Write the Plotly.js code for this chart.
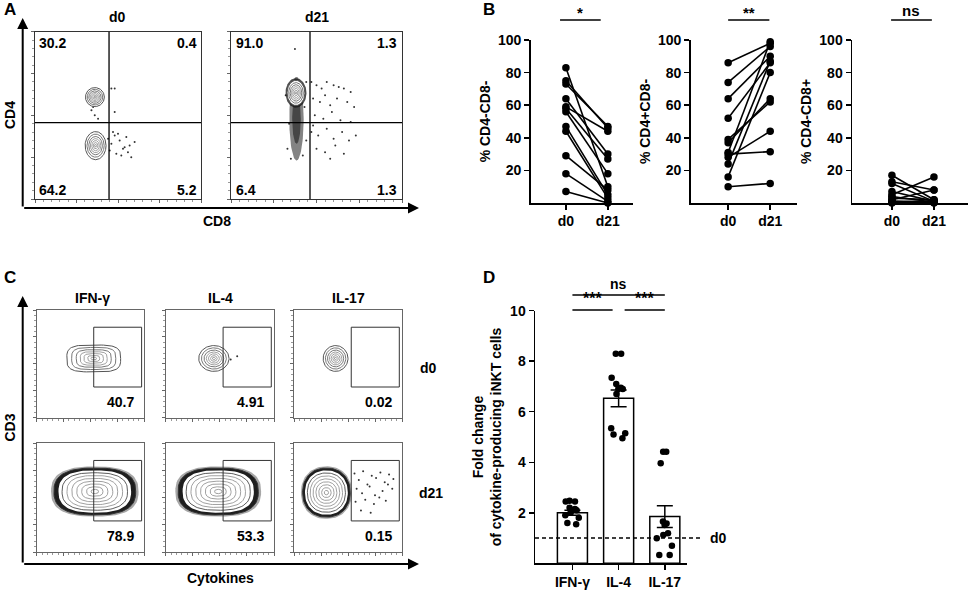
<!DOCTYPE html>
<html><head><meta charset="utf-8">
<script src="https://cdn.plot.ly/plotly-3.0.1.min.js"></script>
<style>html,body{margin:0;padding:0;background:#fff}</style>
</head><body><div id="chart" style="width:970px;height:592px"></div>
<script>
// ===== Panel A: CD4 vs CD8 flow plots =====
const aDays = ['d0', 'd21'];
const aQuad = [['30.2', '0.4', '64.2', '5.2'], ['91.0', '1.3', '6.4', '1.3']];
const aGateX = [44.6, 46.2];
const aGateY = [45.6, 45.6];
const aPopPanel = [0, 0, 1];
const aPopX = [36.1, 36.5, 38.0];
const aPopY = [60.9, 31.9, 63.4];
const aPopRx = [5.7, 6.3, 5.2];
const aPopRy = [5.7, 8.4, 7.5];
const aStreakX = [38.3], aStreakY = [48], aStreakRx = [4.2], aStreakRy = [25];
const aDots0X = [44,46,48,51,53,55,57,60,45,49,52,56,47,50,54,58,46,48,48,34,36,38,35];
const aDots0Y = [36,33,38,35,30,37,32,34,29,27,26,28,40,39,31,25,66,66,52,53,50,48,55];
const aDots1X = [47,50,53,56,60,63,66,70,48,52,55,58,62,68,72,49,54,59,64,70,47,51,56,60,65,69,73,50,55,61,66,58,48,37.4,33,44,34,43,32,44,35,42];
const aDots1Y = [70,68,66,70,68,67,66,64,60,58,62,56,60,58,55,50,48,52,47,46,40,38,42,36,40,35,38,30,28,32,27,24,44,89.7,30,35,45,55,62,70,24,26];

// ===== Panel B: paired percentages =====
const bDays = ['d0', 'd21'];
const dnD0 = [83, 75, 73, 64, 59, 58, 56, 47, 44, 29, 18, 7];
const dnD21 = [10, 46, 47, 30, 44, 27, 18, 5, 3, 8, 1, 0];
const cd4D0 = [86, 74, 64, 52, 39, 37, 31, 30, 28, 24, 16, 10];
const cd4D21 = [98, 96, 90, 86, 62, 64, 99, 31.5, 44, 87, 80, 12];
const cd8D0 = [17, 13, 12, 7, 5, 4, 3, 2, 1, 1, 0.5, 0];
const cd8D21 = [2, 8, 1, 1, 16, 0.5, 2, 8, 1, 0, 1, 0.5];
const bTitles = ['% CD4-CD8-', '% CD4+CD8-', '% CD4-CD8+'];
const bSig = ['*', '**', 'ns'];
const bTicks = [20, 40, 60, 80, 100];

// ===== Panel C: cytokine flow plots =====
const cCols = ['IFN-γ', 'IL-4', 'IL-17'];
const cRows = ['d0', 'd21'];
const cPct = [['40.7', '4.91', '0.02'], ['78.9', '53.3', '0.15']];
const cGateX = [53, 97.5];
const cGateY = [28.5, 84];
const cPopX = [[53, 44.5, 38.5], [54, 48.5, 30]];
const cPopY = [[55, 55, 55], [55.5, 55.5, 54.5]];
const cPopRx = [[25, 14, 11.5], [38, 37, 22]];
const cPopRy = [[12.5, 12, 12], [21.5, 21.5, 22.5]];
const cPopShape = [[3.5, 2, 2], [2.6, 2.6, 2.2]];
const cDots1X = [60, 66], cDots1Y = [54, 57];
const cDots5X = [56,60,64,68,72,76,80,84,88,92,58,63,70,75,82,87,91,57,66,74,79,85,62,71];
const cDots5Y = [72,66,74,62,70,68,73,64,71,67,58,54,60,52,56,62,58,46,48,44,50,47,38,36];

// ===== Panel D: fold change =====
const dCats = ['IFN-γ', 'IL-4', 'IL-17'];
const ifnPts = [2.48, 2.45, 2.45, 2.2, 2.15, 2.1, 2.1, 2.0, 1.9, 1.8, 1.6, 1.55];
const il4Pts = [8.3, 8.3, 7.35, 7.1, 6.95, 6.9, 6.9, 6.7, 5.35, 5.15, 5.1, 4.95];
const il17Pts = [4.42, 4.42, 3.96, 1.65, 1.58, 1.52, 1.19, 1.12, 0.99, 0.69, 0.33, 0.33];
const dMeans = [2.0, 6.53, 1.85];
const dSem = [0.1, 0.33, 0.43];
const dTicks = [2, 4, 6, 8, 10];
const d0Level = 1;

// ===== helpers =====
const W = 970, H = 592;
const FAM = 'Liberation Sans, Arial, sans-serif';
const fb = (s) => ({family: FAM, size: s, color: '#000', weight: 'bold'});
const px = (v) => v / W, py = (v) => 1 - v / H;
const id = (i) => (i === 1 ? '' : String(i));
const traces = [], shapes = [], annotations = [];
const layout = {width: W, height: H, margin: {l: 0, r: 0, t: 0, b: 0}, showlegend: false,
  paper_bgcolor: '#fff', plot_bgcolor: 'rgba(0,0,0,0)', shapes, annotations};

function ring(ax, cx, cy, rx, ry, p, s, line, fill) {
  const xs = [], ys = [];
  for (let i = 0; i <= 90; i++) {
    const t = i / 90 * 2 * Math.PI, c = Math.cos(t), sn = Math.sin(t);
    xs.push(cx + s * rx * Math.sign(c) * Math.pow(Math.abs(c), 2 / p));
    ys.push(cy + s * ry * Math.sign(sn) * Math.pow(Math.abs(sn), 2 / p));
  }
  traces.push({type: 'scatter', mode: 'lines', x: xs, y: ys, xaxis: 'x' + id(ax), yaxis: 'y' + id(ax),
    line: line, fill: fill ? 'toself' : 'none', fillcolor: fill || 'rgba(0,0,0,0)', hoverinfo: 'skip'});
}
function lightPop(ax, cx, cy, rx, ry, p) {
  ring(ax, cx, cy, rx, ry, p, 1, {color: '#555', width: 1}, '#fff');
  [0.82, 0.65, 0.5, 0.36, 0.22, 0.1].forEach((s, k) =>
    ring(ax, cx, cy, rx, ry, p, s, {color: k < 2 ? '#555' : '#888', width: 0.8}));
}
function densePop(ax, cx, cy, rx, ry, p) {
  ring(ax, cx, cy, rx, ry, p, 1.07, {color: 'rgba(0,0,0,0)', width: 0}, 'rgba(60,60,60,0.45)');
  ring(ax, cx, cy, rx, ry, p, 1.0, {color: '#333', width: 1}, '#1e1e1e');
  ring(ax, cx, cy, rx, ry, p, 0.87, {color: '#fff', width: 1.5}, '#fff');
  [0.8, 0.68, 0.56, 0.44, 0.32, 0.2, 0.09].forEach((s, k) =>
    ring(ax, cx, cy, rx, ry, p, s, {color: k === 0 ? '#333' : '#888', width: 0.8}));
}
function dots(ax, xs, ys, size) {
  traces.push({type: 'scatter', mode: 'markers', x: xs, y: ys, xaxis: 'x' + id(ax), yaxis: 'y' + id(ax),
    marker: {size: size || 2, color: '#333'}, hoverinfo: 'skip'});
}
const flowStyle = {range: [0, 100], showline: true, mirror: true, linecolor: '#333', linewidth: 1,
  ticks: 'outside', ticklen: 3, tickcolor: '#666', tickwidth: 1, dtick: 25, showticklabels: false,
  showgrid: false, zeroline: false, fixedrange: true,
  minor: {ticks: 'outside', ticklen: 2, dtick: 5, tickcolor: '#999'}};
function flowAxes(i, x0, x1, y0, y1) {
  layout['xaxis' + id(i)] = Object.assign({}, flowStyle, {domain: [px(x0), px(x1)], anchor: 'y' + id(i)});
  layout['yaxis' + id(i)] = Object.assign({}, flowStyle, {domain: [py(y1), py(y0)], anchor: 'x' + id(i)});
}
function ann(text, x, y, size, extra) {
  annotations.push(Object.assign({text: text, xref: 'paper', yref: 'paper', x: px(x), y: py(y),
    showarrow: false, font: fb(size), xanchor: 'center', yanchor: 'middle'}, extra || {}));
}
function arrow(x0, y0, x1, y1) {
  annotations.push({text: '', xref: 'paper', yref: 'paper', x: px(x1), y: py(y1),
    ax: x0 - x1, ay: y0 - y1, axref: 'pixel', ayref: 'pixel', showarrow: true,
    arrowhead: 2, arrowsize: 1.1, arrowwidth: 2, arrowcolor: '#000'});
}

// ===== Panel A =====
flowAxes(1, 35, 201, 31.7, 199);
flowAxes(2, 231, 402, 31.7, 199);
[1, 2].forEach((ax, k) => {
  shapes.push({type: 'line', xref: 'x' + id(ax), yref: 'y' + id(ax), x0: aGateX[k], x1: aGateX[k], y0: 0, y1: 100, line: {color: '#000', width: 1.3}});
  shapes.push({type: 'line', xref: 'x' + id(ax), yref: 'y' + id(ax), x0: 0, x1: 100, y0: aGateY[k], y1: aGateY[k], line: {color: '#000', width: 1.3}});
  const pos = [[1.5, 93, 'left'], [98.5, 93, 'right'], [1.5, 5.5, 'left'], [98.5, 5.5, 'right']];
  pos.forEach((p, j) => annotations.push({text: aQuad[k][j], xref: 'x' + id(ax), yref: 'y' + id(ax),
    x: p[0], y: p[1], xanchor: p[2], yanchor: 'middle', showarrow: false, font: fb(14)}));
});
dots(1, aDots0X, aDots0Y);
ring(2, aStreakX[0], aStreakY[0], aStreakRx[0], aStreakRy[0], 2, 1, {color: 'rgba(0,0,0,0)', width: 0}, 'rgba(30,30,30,0.55)');
ring(2, aStreakX[0], aStreakY[0], aStreakRx[0], aStreakRy[0], 2, 0.6, {color: 'rgba(0,0,0,0)', width: 0}, 'rgba(10,10,10,0.5)');
dots(2, aDots1X, aDots1Y);
aPopPanel.forEach((pn, i) => {
  const ax = pn + 1;
  if (pn === 1) ring(ax, aPopX[i], aPopY[i], aPopRx[i], aPopRy[i], 2, 1.18, {color: 'rgba(0,0,0,0)', width: 0}, 'rgba(20,20,20,0.75)');
  lightPop(ax, aPopX[i], aPopY[i], aPopRx[i], aPopRy[i], 2);
});
ann('d0', 117, 17, 14); ann('d21', 317, 17, 14);
ann('CD4', 10, 115, 14, {textangle: -90}); ann('CD8', 217, 221, 14);
arrow(22.7, 208, 22.7, 18); arrow(22.7, 208, 419, 208);
ann('A', 10, 10, 17);

// ===== Panel C =====
const cX = [[36.7, 144.3], [165.7, 274], [294, 402]];
const cY = [[310, 417.7], [443, 552]];
for (let r = 0; r < 2; r++) for (let c = 0; c < 3; c++) {
  const ax = 3 + r * 3 + c;
  flowAxes(ax, cX[c][0], cX[c][1], cY[r][0], cY[r][1]);
  layout['xaxis' + id(ax)].linecolor = '#666'; layout['yaxis' + id(ax)].linecolor = '#666';
  if (r === 0) lightPop(ax, cPopX[r][c], cPopY[r][c], cPopRx[r][c], cPopRy[r][c], cPopShape[r][c]);
  else densePop(ax, cPopX[r][c], cPopY[r][c], cPopRx[r][c], cPopRy[r][c], cPopShape[r][c]);
  shapes.push({type: 'rect', xref: 'x' + id(ax), yref: 'y' + id(ax), x0: cGateX[0], x1: cGateX[1], y0: cGateY[0], y1: cGateY[1], line: {color: '#333', width: 1}});
  annotations.push({text: cPct[r][c], xref: 'x' + id(ax), yref: 'y' + id(ax), x: 78, y: 15,
    showarrow: false, font: fb(14), xanchor: 'center', yanchor: 'middle'});
}
dots(4, cDots1X, cDots1Y);
dots(8, cDots5X, cDots5Y);
ann(cCols[0], 92.7, 298, 14); ann(cCols[1], 220, 298, 14); ann(cCols[2], 348, 298, 14);
ann(cRows[0], 428, 368, 14); ann(cRows[1], 431, 493, 14);
ann('CD3', 9.5, 428, 14, {textangle: -90}); ann('Cytokines', 220, 578, 14);
arrow(22.7, 564, 22.7, 296); arrow(22.7, 564, 419, 564);
ann('C', 10, 277, 17);

// ===== Panel B =====
const bData = [[dnD0, dnD21], [cd4D0, cd4D21], [cd8D0, cd8D21]];
const bX = [[530.7, 633], [690.7, 796.7], [852, 968]];
const bRange = [[-0.84, 1.6], [-0.89, 1.63], [-0.95, 1.81]];
const bSigX = [[-0.14, 0.83], [0, 0.98], [-0.02, 0.95]];
bData.forEach((pair, k) => {
  const ax = 9 + k;
  const xs = [], ys = [];
  pair[0].forEach((v, i) => { xs.push(0, 1, null); ys.push(v, pair[1][i], null); });
  traces.push({type: 'scatter', mode: 'lines+markers', x: xs, y: ys, xaxis: 'x' + ax, yaxis: 'y' + ax,
    line: {color: '#000', width: 1.6}, marker: {color: '#000', size: 7.5}, cliponaxis: false, hoverinfo: 'skip'});
  layout['xaxis' + ax] = {domain: [px(bX[k][0]), px(bX[k][1])], range: bRange[k], anchor: 'y' + ax,
    tickvals: [0, 1], ticktext: bDays, ticks: 'outside', ticklen: 5, tickwidth: 1.5, tickcolor: '#000',
    showline: true, linecolor: '#000', linewidth: 1.5, showgrid: false, zeroline: false, tickfont: fb(14), fixedrange: true};
  layout['yaxis' + ax] = {domain: [py(203), py(40)], range: [0, 100], anchor: 'x' + ax,
    tickvals: bTicks, ticks: 'outside', ticklen: 5, tickwidth: 1.5, tickcolor: '#000',
    showline: true, linecolor: '#000', linewidth: 1.5, showgrid: false, zeroline: false, tickfont: fb(14),
    title: {text: bTitles[k], font: fb(14), standoff: 4}, fixedrange: true};
  shapes.push({type: 'line', xref: 'x' + ax, yref: 'paper', x0: bSigX[k][0], x1: bSigX[k][1], y0: py(20), y1: py(20), line: {color: '#000', width: 1.5}});
  annotations.push({text: bSig[k], xref: 'x' + ax, yref: 'paper', x: (bSigX[k][0] + bSigX[k][1]) / 2,
    y: py(bSig[k] === 'ns' ? 11 : 13), yanchor: 'middle', xanchor: 'center', showarrow: false,
    font: fb(15)});
});
ann('B', 489, 10, 17);

// ===== Panel D =====
traces.push({type: 'bar', x: [0, 1, 2], y: dMeans, width: 0.65, xaxis: 'x12', yaxis: 'y12',
  marker: {color: 'rgba(0,0,0,0)', line: {color: '#000', width: 1.5}},
  error_y: {type: 'data', array: dSem, visible: true, color: '#000', thickness: 1.5, width: 8}, hoverinfo: 'skip'});
[ifnPts, il4Pts, il17Pts].forEach((pts, i) => {
  traces.push({type: 'box', x: pts.map(() => i), y: pts, xaxis: 'x12', yaxis: 'y12', boxpoints: 'all',
    jitter: 0.75, pointpos: 0, width: 0.55, fillcolor: 'rgba(0,0,0,0)', line: {color: 'rgba(0,0,0,0)', width: 0},
    marker: {color: '#000', size: 6.5}, hoverinfo: 'skip'});
});
layout.xaxis12 = {domain: [px(535), px(687)], range: [-0.81, 2.48], anchor: 'y12', tickvals: [0, 1, 2], ticktext: dCats,
  ticks: 'outside', ticklen: 5, tickwidth: 1.5, tickcolor: '#000', showline: true, linecolor: '#000', linewidth: 1.5,
  showgrid: false, zeroline: false, tickfont: fb(14), fixedrange: true};
layout.yaxis12 = {domain: [py(563.3), py(310.7)], range: [0, 10], anchor: 'x12', tickvals: dTicks,
  ticks: 'outside', ticklen: 5, tickwidth: 1.5, tickcolor: '#000', showline: true, linecolor: '#000', linewidth: 1.5,
  showgrid: false, zeroline: false, tickfont: fb(14), fixedrange: true,
  title: {text: 'Fold change<br>of cytokine-producing iNKT cells', font: fb(14), standoff: 5}};
layout.boxmode = 'overlay';
shapes.push({type: 'line', xref: 'paper', yref: 'y12', x0: px(535), x1: px(702), y0: d0Level, y1: d0Level,
  line: {color: '#000', width: 1.5, dash: '4px,3px'}});
ann('d0', 718, 563.3 - 25.27 * d0Level, 14);
// significance brackets
[[0, 0.87, 310, '***'], [1.13, 2, 310, '***'], [0, 2, 295, 'ns']].forEach(b => {
  shapes.push({type: 'line', xref: 'x12', yref: 'paper', x0: b[0], x1: b[1], y0: py(b[2]), y1: py(b[2]), line: {color: '#000', width: 1.5}});
  annotations.push({text: b[3], xref: 'x12', yref: 'paper', x: (b[0] + b[1]) / 2, y: py(b[2] - 1),
    yanchor: 'bottom', xanchor: 'center', showarrow: false, font: fb(b[3] === 'ns' ? 14 : 16)});
});
ann('D', 489, 278, 17);

Plotly.newPlot('chart', traces, layout, {staticPlot: true, displayModeBar: false});
</script></body></html>
